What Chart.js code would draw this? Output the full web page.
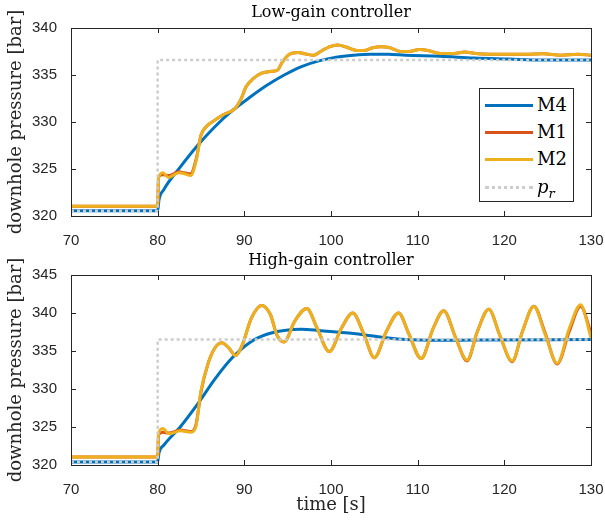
<!DOCTYPE html>
<html>
<head>
<meta charset="utf-8">
<script src="https://cdn.jsdelivr.net/npm/chart.js@4"></script>
<style>
  body { margin: 0; background: #fff; }
  #wrap { position: relative; width: 605px; height: 520px; }
  canvas { position: absolute; left: 0; }
  .title {
    position: absolute; left: 71px; width: 520px; text-align: center;
    font-family: "DejaVu Serif", serif; font-size: 16px; line-height: 20px; color: #000;
  }
  #legend {
    position: absolute; left: 479px; top: 88px; width: 93px; height: 112px;
    border: 1px solid #262626; background: #fff;
    font-family: "DejaVu Serif", serif; font-size: 18px; color: #000;
  }
  .item { position: absolute; left: 0; height: 24px; width: 93px; }
  .swatch { position: absolute; left: 5px; width: 48px; top: 11px; }
  .label { position: absolute; left: 57px; top: 0; line-height: 24px; }
</style>
</head>
<body>
<div id="wrap">
  <canvas id="lowChart" width="605" height="250" style="top:0"></canvas>
  <canvas id="highChart" width="605" height="270" style="top:250px"></canvas>
  <div class="title" style="top:2px">Low-gain controller</div>
  <div class="title" style="top:250px">High-gain controller</div>
  <div id="legend">
    <div class="item" style="top:4px"><div class="swatch" style="border-top:3px solid #0072BD"></div><span class="label">M4</span></div>
    <div class="item" style="top:31px"><div class="swatch" style="border-top:3px solid #D95319"></div><span class="label">M1</span></div>
    <div class="item" style="top:58px"><div class="swatch" style="border-top:3px solid #EDB120"></div><span class="label">M2</span></div>
    <div class="item" style="top:86px"><div class="swatch" style="border-top:3px dotted #cccccc"></div><span class="label"><i>p</i><sub style="font-size:13px"><i>r</i></sub></span></div>
  </div>
</div>
<script>
// time axis ticks and y-axis ticks
const timeTicks = [70, 80, 90, 100, 110, 120, 130];
const lowPressureTicks = [320, 325, 330, 335, 340];
const highPressureTicks = [320, 325, 330, 335, 340, 345];

// Low-gain controller
const lowTimeRef = [70, 80, 80, 130];
const lowRef = [320.55, 320.55, 336.6, 336.6];

const lowTimeM4 = [70, 80, 80.15, 80.7, 82.6, 84.6, 86.6, 88.6, 90.6, 92.6, 94.6, 96.6, 98.6, 100.6, 102.6, 104.6, 106.6, 108.6, 112.6, 116.5, 120.5, 124.5, 130];
const lowM4 = [320.55, 320.55, 321.7, 322.8, 325.2, 327.5, 329.5, 331.2, 332.6, 333.9, 335.0, 335.9, 336.5, 336.9, 337.1, 337.2, 337.2, 337.1, 337.0, 336.8, 336.7, 336.6, 336.6];

const lowTimeM2 = [70, 80, 80.1, 80.6, 81.25, 82.45, 83.1, 83.8, 84.45, 85.0, 85.6, 86.6, 87.6, 88.6, 89.0, 89.6, 90.2, 91.0, 92.0, 93.2, 93.8, 94.4, 95.2, 96.2, 97.0, 98.0, 98.8, 99.8, 100.8, 101.8, 103.0, 103.8, 104.8, 105.8, 106.8, 108.0, 109.0, 110.2, 111.2, 112.6, 114.2, 115.4, 117.0, 119.0, 120.5, 122.5, 124.5, 126.5, 128.5, 130];
const lowM2 = [321.05, 321.05, 324.0, 324.6, 324.1, 324.6, 324.5, 324.3, 325.9, 328.6, 329.5, 330.2, 330.8, 331.2, 331.5, 332.4, 333.75, 334.6, 335.2, 335.4, 335.5, 336.4, 337.2, 337.4, 337.25, 337.1, 337.5, 338.0, 338.2, 337.95, 337.6, 337.6, 337.9, 338.0, 337.9, 337.5, 337.5, 337.7, 337.6, 337.3, 337.3, 337.45, 337.25, 337.2, 337.2, 337.2, 337.25, 337.1, 337.2, 337.1];

const lowTimeM1 = lowTimeM2;
const lowM1 = [321.05, 321.05, 324.2, 324.4, 324.3, 324.7, 324.6, 324.5, 326.1, 328.6, 329.5, 330.2, 330.8, 331.2, 331.5, 332.4, 333.75, 334.6, 335.2, 335.4, 335.5, 336.4, 337.2, 337.4, 337.25, 337.1, 337.5, 338.0, 338.2, 337.95, 337.6, 337.6, 337.9, 338.0, 337.9, 337.5, 337.5, 337.7, 337.6, 337.3, 337.3, 337.45, 337.25, 337.2, 337.2, 337.2, 337.25, 337.1, 337.2, 337.1];

// High-gain controller
const highTimeRef = [70, 80, 80, 130];
const highRef = [320.4, 320.4, 336.5, 336.5];

const highTimeM4 = [70, 80, 80.15, 80.7, 82.6, 84.6, 86.6, 88.6, 90.6, 92.6, 94.6, 96.6, 98.6, 100.6, 102.6, 104.6, 106.6, 108.6, 112.6, 116.5, 130];
const highM4 = [320.4, 320.4, 321.6, 322.6, 325.0, 328.0, 331.3, 334.1, 336.1, 337.2, 337.7, 337.85, 337.7, 337.5, 337.3, 337.0, 336.7, 336.5, 336.4, 336.45, 336.5];

const highTimeM2 = [70, 80, 80.1, 80.6, 81.3, 82.6, 83.8, 84.4, 85.0, 85.8, 86.6, 87.4, 88.2, 89.0, 89.8, 90.8, 92.0, 93.0, 93.8, 94.6, 95.8, 97.2, 98.4, 99.8, 101.2, 102.5, 103.8, 105.0, 106.4, 107.8, 109.0, 110.4, 111.8, 113.0, 114.4, 115.7, 116.9, 118.2, 119.5, 120.9, 122.1, 123.4, 124.7, 126.1, 127.5, 128.8, 130];
const highM2 = [321.05, 321.05, 324.1, 324.8, 324.1, 324.5, 324.3, 325.0, 329.8, 333.3, 335.4, 336.1, 335.4, 334.4, 335.9, 339.3, 341.0, 339.8, 337.0, 336.2, 338.9, 340.6, 338.0, 334.9, 338.0, 340.0, 337.2, 334.1, 337.6, 340.0, 337.2, 334.0, 338.0, 340.3, 336.7, 333.8, 337.6, 340.5, 337.0, 333.7, 337.6, 340.9, 337.2, 333.4, 338.0, 341.1, 336.7];

const highTimeM1 = highTimeM2;
const highM1 = [321.05, 321.05, 324.0, 324.3, 324.2, 324.6, 324.4, 325.2, 329.6, 333.3, 335.4, 336.1, 335.4, 334.4, 335.9, 339.3, 341.0, 339.8, 337.0, 336.2, 338.9, 340.6, 338.0, 334.9, 338.0, 340.0, 337.2, 334.1, 337.6, 340.0, 337.2, 334.0, 338.0, 340.3, 336.7, 333.7, 337.6, 340.5, 337.0, 333.6, 337.6, 340.9, 337.4, 333.3, 337.6, 340.9, 337.4];

const pts = (ts, ps) => ts.map((t, i) => ({ x: t, y: ps[i] }));

// inward ticks on all four sides plus the box
const boxTicks = {
  id: 'boxTicks',
  afterDatasetsDraw(chart) {
    const { ctx, chartArea: a, scales: { x, y } } = chart;
    ctx.save();
    ctx.strokeStyle = '#262626';
    ctx.lineWidth = 1;
    ctx.beginPath();
    x.ticks.forEach(t => {
      const px = Math.round(x.getPixelForValue(t.value)) + 0.5;
      ctx.moveTo(px, a.bottom); ctx.lineTo(px, a.bottom - 5);
      ctx.moveTo(px, a.top); ctx.lineTo(px, a.top + 5);
    });
    y.ticks.forEach(t => {
      const py = Math.round(y.getPixelForValue(t.value)) + 0.5;
      ctx.moveTo(a.left, py); ctx.lineTo(a.left + 5, py);
      ctx.moveTo(a.right, py); ctx.lineTo(a.right - 5, py);
    });
    ctx.stroke();
    ctx.strokeRect(Math.round(a.left) + 0.5, Math.round(a.top) + 0.5,
      Math.round(a.right - a.left), Math.round(a.bottom - a.top));
    ctx.restore();
  }
};

function makeChart(id, opts) {
  const datasets = [
    { label: 'p_r', data: pts(opts.refT, opts.ref), borderColor: '#cccccc', borderWidth: 2.5, borderDash: [3, 3], tension: 0 },
    { label: 'M2', data: pts(opts.m2T, opts.m2), borderColor: '#EDB120', borderWidth: 3, cubicInterpolationMode: 'monotone' },
    { label: 'M1', data: pts(opts.m1T, opts.m1), borderColor: '#D95319', borderWidth: 3, cubicInterpolationMode: 'monotone' },
    { label: 'M4', data: pts(opts.m4T, opts.m4), borderColor: '#0072BD', borderWidth: 3, cubicInterpolationMode: 'monotone' }
  ];
  return new Chart(document.getElementById(id), {
    type: 'line',
    data: { datasets },
    plugins: [boxTicks],
    options: {
      responsive: false,
      animation: false,
      devicePixelRatio: 1,
      layout: { padding: { left: 0, right: 14, top: opts.topPad, bottom: 0 } },
      elements: { point: { radius: 0 } },
      plugins: {
        legend: { display: false },
        tooltip: { enabled: false },
        title: { display: false }
      },
      scales: {
        x: {
          type: 'linear',
          min: 70, max: 130,
          afterBuildTicks: s => { s.ticks = timeTicks.map(v => ({ value: v })); },
          afterFit: s => { s.height = opts.xHeight; s.paddingLeft = 0; s.paddingRight = 0; },
          grid: { display: false },
          border: { display: false },
          ticks: { color: '#262626', padding: 8, maxRotation: 0, autoSkip: false, font: { family: 'Liberation Sans', size: 15 } },
          title: {
            display: opts.xTitle,
            text: 'time [s]',
            color: '#262626',
            font: { family: 'DejaVu Serif', size: 18 },
            padding: { top: 0, bottom: 4 }
          }
        },
        y: {
          min: opts.yTicks[0], max: opts.yTicks[opts.yTicks.length - 1],
          afterBuildTicks: s => { s.ticks = opts.yTicks.map(v => ({ value: v })); },
          afterFit: s => { s.width = 71; s.paddingTop = 0; s.paddingBottom = 0; },
          grid: { display: false },
          border: { display: false },
          ticks: { color: '#262626', padding: 6, font: { family: 'Liberation Sans', size: 15 } },
          title: {
            display: true,
            text: 'downhole pressure [bar]',
            color: '#262626',
            font: { family: 'DejaVu Serif', size: 18 },
            padding: { top: 6, bottom: 0 }
          }
        }
      }
    }
  });
}

makeChart('lowChart', {
  topPad: 28,
  refT: lowTimeRef, ref: lowRef, m4T: lowTimeM4, m4: lowM4,
  m1T: lowTimeM1, m1: lowM1, m2T: lowTimeM2, m2: lowM2,
  yTicks: lowPressureTicks, xHeight: 34, xTitle: false
});

makeChart('highChart', {
  topPad: 25,
  refT: highTimeRef, ref: highRef, m4T: highTimeM4, m4: highM4,
  m1T: highTimeM1, m1: highM1, m2T: highTimeM2, m2: highM2,
  yTicks: highPressureTicks, xHeight: 55, xTitle: true
});
</script>
</body>
</html>
